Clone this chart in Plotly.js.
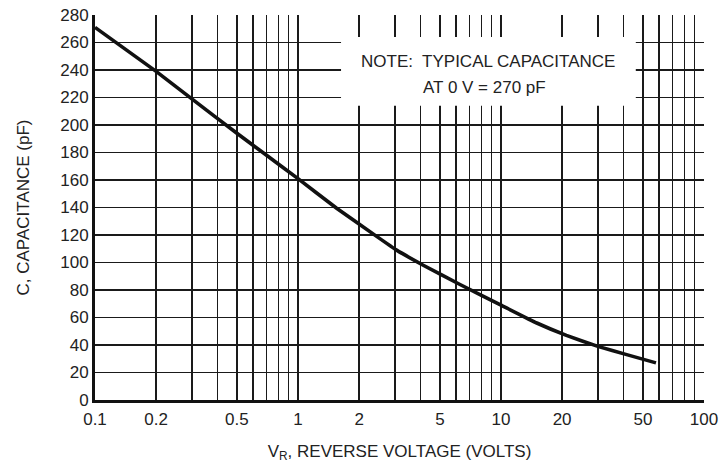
<!DOCTYPE html>
<html>
<head>
<meta charset="utf-8">
<script src="https://cdn.plot.ly/plotly-3.0.1.min.js"></script>
<style>
html,body{margin:0;padding:0;background:#fff;}
#chart{width:720px;height:466px;}
</style>
</head>
<body>
<div id="chart"></div>
<script>
// Reverse voltage (V) and capacitance (pF)
const voltage = [0.1, 0.2, 0.3, 0.5, 0.7, 1.0, 1.55, 2.44, 3.06, 4.14, 6.28, 10, 15, 21, 30, 41.6, 58];
const capacitance = [271, 239, 219, 194, 178, 161, 139.5, 119, 109, 98, 84, 69, 56, 47, 39, 33, 27];

// Labelled log ticks and the extra (unlabelled) grid values
const xTickVals = [0.1, 0.2, 0.5, 1, 2, 5, 10, 20, 50, 100];
const xTickText = ['0.1', '0.2', '0.5', '1', '2', '5', '10', '20', '50', '100'];
const xMinorVals = [0.3,0.4,0.6,0.7,0.8,0.9,3,4,6,7,8,9,30,40,60,70,80,90];
const yTickVals = [0,20,40,60,80,100,120,140,160,180,200,220,240,260,280];

const noteLine1 = 'NOTE:  TYPICAL CAPACITANCE';
const noteLine2 = 'AT 0 V = 270 pF';

const FONT = '"Liberation Sans Narrow", "Arial Narrow", "Liberation Sans", Arial, sans-serif';
const FS = 17;

const trace = {
  x: voltage, y: capacitance, type: 'scatter', mode: 'lines',
  line: {color: '#111', width: 3.6, shape: 'spline', smoothing: 0.3},
  hoverinfo: 'skip'
};

const layout = {
  width: 720, height: 466,
  margin: {l: 95, r: 16, t: 15, b: 66},
  paper_bgcolor: '#fff', plot_bgcolor: '#fff',
  showlegend: false,
  font: {family: FONT, size: FS, color: '#222'},
  xaxis: {
    type: 'log', range: [-1, 2],
    tickmode: 'array', tickvals: xTickVals, ticktext: xTickText,
    showgrid: true, gridcolor: '#1a1a1a', gridwidth: 1.4,
    minor: {tickmode: 'array', tickvals: xMinorVals, showgrid: true, gridcolor: '#1a1a1a', gridwidth: 1.4, ticks: ''},
    showline: true, linecolor: '#111', linewidth: 3,
    ticks: '', ticklabelstandoff: 2,
    zeroline: false,
    title: {text: 'V<sub>R</sub>, REVERSE VOLTAGE (VOLTS)', font: {family: FONT, size: FS, color: '#222'}, standoff: 17}
  },
  yaxis: {
    range: [0, 280],
    tickmode: 'array', tickvals: yTickVals,
    showgrid: true, gridcolor: '#1a1a1a', gridwidth: 1.4,
    showline: true, linecolor: '#111', linewidth: 3,
    ticks: '', ticklabelstandoff: 0,
    zeroline: false,
    title: {text: 'C, CAPACITANCE (pF)', font: {family: FONT, size: FS, color: '#222'}, standoff: 27}
  },
  shapes: [{
    type: 'rect', xref: 'paper', yref: 'paper',
    x0: 0.404, x1: 0.888, y0: 0.764, y1: 0.943,
    fillcolor: '#fff', line: {width: 0}, layer: 'above'
  }],
  annotations: [
    {text: noteLine1, xref: 'paper', yref: 'paper', x: 0.4335, y: 0.8805,
     xanchor: 'left', yanchor: 'middle', showarrow: false,
     font: {family: FONT, size: FS, color: '#222'}},
    {text: noteLine2, xref: 'paper', yref: 'paper', x: 0.535, y: 0.812,
     xanchor: 'left', yanchor: 'middle', showarrow: false,
     font: {family: FONT, size: FS, color: '#222'}}
  ]
};

Plotly.newPlot('chart', [trace], layout, {displayModeBar: false, staticPlot: true});
</script>
</body>
</html>
